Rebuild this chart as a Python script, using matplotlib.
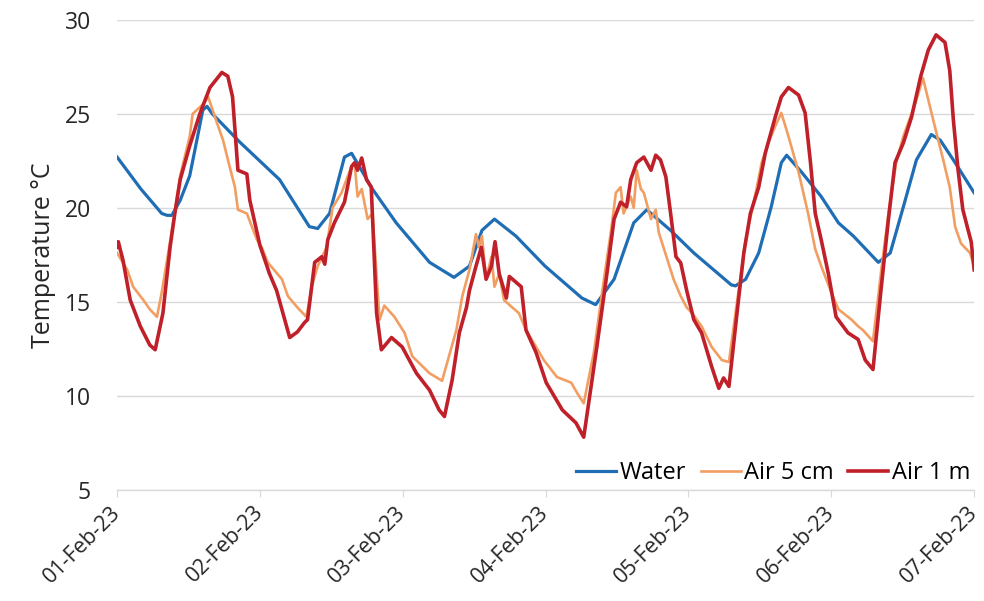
import matplotlib
matplotlib.use('Agg')
import matplotlib.pyplot as plt
import matplotlib.dates as mdates
import numpy as np
import pandas as pd

plt.rcParams['font.family'] = ['Open Sans', 'DejaVu Sans']

start = pd.Timestamp('2023-02-01')

# hours since 01-Feb-23 00:00 and temperature (deg C)
water_h = [0, 4.0, 7.5, 8.4, 9.2, 10.6, 12.2, 13.4, 14.4, 15.1, 16.0, 20.6, 27.3, 32.3, 33.7, 35.7,
           38.2, 39.4, 42.9, 46.9, 52.5, 56.6, 59.2, 61.3, 63.4, 67.0, 71.9, 78.1,
           80.4, 83.5, 86.8, 89.0, 93.0, 96.9, 103.2, 103.9, 105.6, 107.8, 109.9,
           111.6, 112.5, 115.0, 118.3, 121.2, 123.7, 127.9, 129.9, 132.1, 134.3,
           136.8, 138.3, 140.5, 144]
water_t = [22.7, 21.0, 19.7, 19.6, 19.6, 20.4, 21.7, 23.6, 25.2, 25.4, 25.0, 23.5, 21.5, 19.0, 18.9, 19.7,
           22.7, 22.9, 21.0, 19.2, 17.1, 16.3, 16.9, 18.8, 19.4, 18.5, 16.9, 15.2,
           14.85, 16.2, 19.2, 19.9, 18.8, 17.6, 15.9, 15.85, 16.2, 17.6, 20.05,
           22.4, 22.8, 21.9, 20.6, 19.2, 18.5, 17.1, 17.6, 20.05, 22.55,
           23.9, 23.6, 22.55, 20.8]

air5_h = [0, 1.7, 2.7, 4.4, 5.5, 6.7, 7.5, 8.9, 10.6, 12.2, 12.7, 14.4, 15.3, 16.8,
          17.8, 18.9, 19.8, 20.3, 21.8, 23.5, 24.3, 25.3, 27.7, 28.7, 30.3, 31.8,
          32.7, 33.7, 35.2, 36.2, 37.7, 39.4, 39.9, 40.4, 41.1, 42.1, 42.9, 44.1,
          44.9, 46.6, 48.3, 49.6, 52.5, 54.6, 57.0, 58.0, 59.2, 60.3, 60.8, 61.3,
          62.0, 62.9, 63.4, 64.2, 65.0, 66.4, 67.5, 68.7, 70.4, 71.7, 73.9, 76.3,
          77.3, 78.4, 80.1, 81.8, 83.0, 83.8, 84.6, 85.1, 86.3, 86.8, 87.3, 88.0,
          88.5, 89.7, 90.5, 91.0, 92.3, 93.5, 94.7, 95.7, 96.6, 98.2, 99.9, 101.6,
          102.8, 103.9, 105.6, 107.3, 108.3, 109.4, 110.8, 111.6, 112.8, 114.5,
          116.1, 117.3, 118.3, 120.0, 121.2, 123.4, 124.5, 125.3, 127.0, 128.4,
          129.6, 130.9, 132.1, 133.3, 134.3, 135.4, 137.1, 138.8, 139.9, 140.8,
          141.8, 143.3, 144]
air5_t = [17.6, 16.7, 15.8, 15.1, 14.6, 14.2, 15.5, 18.2, 21.7, 23.8, 25.0, 25.5, 25.9, 24.5,
          23.6, 22.2, 21.1, 19.9, 19.7, 18.3, 17.9, 17.1, 16.2, 15.3, 14.7, 14.2,
          15.8, 16.9, 17.9, 20.0, 20.8, 22.2, 22.4, 20.6, 21.0, 19.4, 19.7, 14.05,
          14.8, 14.2, 13.35, 12.1, 11.2, 10.8, 13.5, 15.3, 16.7, 18.6, 17.9, 18.5,
          16.2, 17.4, 15.8, 16.5, 15.1, 14.7, 14.4, 13.5, 12.6, 11.9, 11.0, 10.7,
          10.15, 9.6, 12.3, 16.2, 18.8, 20.8, 21.1, 19.7, 20.6, 20.0, 22.0, 21.0,
          20.8, 19.4, 19.9, 18.7, 17.4, 16.2, 15.3, 14.7, 14.4, 13.7, 12.6, 11.9,
          11.8, 14.4, 18.3, 20.8, 22.4, 23.45, 24.5, 25.05, 23.8, 21.9,
          19.7, 17.8, 16.9, 15.5, 14.6, 14.05, 13.7, 13.5, 12.9, 16.7,
          19.7, 22.4, 23.8, 24.85, 25.75, 26.9, 24.7, 22.55, 21.1, 19.0,
          18.1, 17.6, 16.9]

air1_h = [0, 0.2, 1.0, 2.2, 3.9, 5.5, 6.4, 7.7, 8.9, 9.7, 10.6, 12.2, 13.9, 15.6, 17.6,
          18.6, 19.4, 20.3, 21.8, 22.3, 24.0, 25.6, 26.8, 29.0, 30.3, 31.5, 32.0,
          33.2, 34.4, 34.9, 35.4, 36.5, 38.2, 39.4, 39.9, 40.4, 41.1, 41.9, 42.7,
          43.6, 44.4, 46.1, 47.9, 50.3, 52.5, 54.1, 55.0, 56.3, 57.5, 58.7, 59.2,
          60.3, 61.2, 62.0, 62.9, 63.5, 64.2, 65.4, 65.9, 67.9, 68.7, 70.4, 72.1,
          74.8, 77.1, 78.4, 80.6, 82.3, 83.5, 84.6, 85.6, 86.3, 87.3, 88.5, 89.7,
          90.5, 91.3, 92.2, 93.0, 93.9, 94.7, 95.7, 96.9, 98.2, 99.9, 101.1, 101.9,
          102.8, 104.4, 105.3, 106.4, 107.8, 108.9, 110.6, 111.6, 112.8, 114.5,
          115.6, 116.5, 117.3, 118.3, 119.5, 120.8, 122.8, 124.5, 125.7, 127.0,
          128.4, 129.6, 130.7, 132.1, 133.5, 135.0, 136.3, 137.6, 139.1, 139.9,
          140.5, 141.3, 142.1, 143.0, 143.5, 144]
air1_t = [17.9, 18.2, 17.2, 15.1, 13.7, 12.7, 12.45, 14.4, 17.9, 19.7, 21.5, 23.3, 25.0, 26.4, 27.2,
          27.0, 25.9, 22.0, 21.8, 20.4, 18.0, 16.5, 15.6, 13.1, 13.4, 13.9, 14.05,
          17.1, 17.4, 17.0, 18.3, 19.2, 20.3, 22.2, 22.4, 22.0, 22.65, 21.5, 21.1,
          14.4, 12.45, 13.1, 12.6, 11.2, 10.3, 9.25, 8.9, 10.85, 13.35, 14.7, 15.6,
          16.9, 17.9, 16.2, 16.9, 18.2, 16.5, 15.2, 16.35, 15.8, 13.5, 12.3, 10.7,
          9.25, 8.56, 7.8, 12.6, 16.5, 19.4, 20.3, 20.05, 21.5, 22.4, 22.7, 22.0,
          22.8, 22.55, 21.65, 19.7, 17.4, 17.07, 15.6, 14.05, 13.35, 11.55, 10.4, 10.95,
          10.5, 15.1, 17.6, 19.7, 21.1, 22.9, 24.85, 25.9, 26.4, 26.0,
          25.05, 22.4, 19.7, 18.3, 16.5, 14.2, 13.35, 13.0, 11.9, 11.4,
          15.8, 19.4, 22.4, 23.45, 24.85, 26.97, 28.4, 29.2, 28.8, 27.3,
          24.7, 22.0, 19.9, 18.8, 18.2, 16.7]

day_ticks = pd.date_range('2023-02-01', '2023-02-07', freq='D')

fig, ax = plt.subplots(figsize=(9.84, 6.01), dpi=100)
fig.subplots_adjust(left=0.119, right=0.99, top=0.967, bottom=0.185)

def to_time(hours):
    return start + pd.to_timedelta(np.array(hours), unit='h')

ax.plot(to_time(water_h), water_t, color='#1F6EB5', lw=2.3, label='Water')
ax.plot(to_time(air5_h), air5_t, color='#F29E62', lw=1.9, label='Air 5 cm')
ax.plot(to_time(air1_h), air1_t, color='#C0202A', lw=2.6, label='Air 1 m')

ax.set_ylim(5, 30)
ax.set_yticks([5, 10, 15, 20, 25, 30])
ax.set_xlim(day_ticks[0], day_ticks[-1])
ax.set_xticks(day_ticks)
ax.xaxis.set_major_formatter(mdates.DateFormatter('%d-%b-%y'))

ax.grid(axis='y', color='#D9D9D9', lw=1.0)
ax.set_axisbelow(True)
for s in ['top', 'right', 'left']:
    ax.spines[s].set_visible(False)
ax.spines['bottom'].set_color('#D9D9D9')
ax.spines['bottom'].set_linewidth(1.0)
ax.tick_params(axis='y', length=0, labelsize=16.5, colors='#262626', pad=19)
ax.tick_params(axis='x', length=5, labelsize=15.5, colors='#D9D9D9', labelcolor='#262626', pad=9)
plt.setp(ax.get_xticklabels(), rotation=45, ha='right', va='center', rotation_mode='anchor')

ax.set_ylabel('Temperature °C', fontsize=18, color='#262626', labelpad=6)

ax.legend(loc='lower right', bbox_to_anchor=(1.02, -0.035), ncol=3, frameon=False,
          fontsize=17, handlelength=1.7, columnspacing=0.6, handletextpad=0.15)

plt.savefig('out.png', dpi=100)
